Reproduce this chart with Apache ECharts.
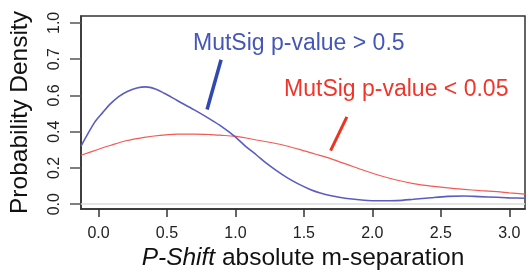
<!DOCTYPE html>
<html>
<head>
<meta charset="utf-8">
<script src="https://cdn.jsdelivr.net/npm/echarts@6/dist/echarts.min.js"></script>
<style>html,body{margin:0;padding:0;background:#fff}#c{width:530px;height:276px}</style>
</head>
<body>
<div id="c"></div>
<script>
// Data
const blueX = [-0.128,-0.03,0.03,0.09,0.15,0.21,0.28,0.345,0.42,0.48,0.575,0.70,0.817,0.90,0.99,1.07,1.156,1.216,1.30,1.38,1.459,1.55,1.62,1.70,1.80,1.94,2.05,2.18,2.30,2.43,2.55,2.67,2.78,2.91,3.0,3.115];
const blueY = [0.32,0.45,0.505,0.556,0.595,0.622,0.641,0.647,0.634,0.612,0.572,0.52,0.468,0.428,0.377,0.322,0.27,0.232,0.185,0.145,0.112,0.08,0.062,0.047,0.033,0.022,0.019,0.02,0.027,0.036,0.043,0.045,0.042,0.038,0.035,0.033];
const redX = [-0.128,0.0,0.09,0.2,0.334,0.45,0.575,0.70,0.817,0.90,0.99,1.08,1.156,1.216,1.34,1.459,1.58,1.70,1.82,1.94,2.06,2.184,2.30,2.43,2.55,2.67,2.79,2.91,3.0,3.115];
const redY = [0.27,0.303,0.325,0.35,0.369,0.38,0.386,0.387,0.384,0.38,0.375,0.365,0.354,0.346,0.328,0.304,0.277,0.25,0.218,0.186,0.157,0.132,0.114,0.1,0.09,0.082,0.075,0.069,0.063,0.056];
const xTickValues = [0,0.5,1,1.5,2,2.5,3];
const xTickLabels = ['0.0','0.5','1.0','1.5','2.0','2.5','3.0'];
const yTickValues = [0,0.2,0.4,0.6,0.8,1.0];
const yTickLabels = ['0.0','0.2','0.4','0.6','0.7','1.0'];
const blueName = 'MutSig p-value > 0.5';
const redName = 'MutSig p-value < 0.05';
const blueLabelAt = [0.69, 0.886];
const redLabelAt = [1.355, 0.63];
const bluePointer = [[0.895, 0.797],[0.793, 0.522]];
const redPointer = [[1.814, 0.482],[1.695, 0.295]];

const zip = (a,b) => a.map((v,i)=>[v,b[i]]);
const FONT = '"Liberation Sans", Arial, sans-serif';
const chart = echarts.init(document.getElementById('c'), null, {renderer:'canvas'});
chart.setOption({
  animation:false,
  grid:{left:78, top:16, right:5, bottom:64, show:true, borderColor:'#333', borderWidth:1.5, backgroundColor:'transparent'},
  xAxis:{
    type:'value', min:-0.128, max:3.115,
    splitLine:{show:false},
    axisLine:{show:true, onZero:false, lineStyle:{color:'#333', width:1.5}},
    axisTick:{show:true, customValues:xTickValues, length:8, lineStyle:{color:'#333', width:1.5}},
    axisLabel:{customValues:xTickValues, formatter:(v)=>xTickLabels[xTickValues.indexOf(v)] ?? '', fontFamily:FONT, fontSize:16, color:'#222', margin:16},
    name:'{i|P-Shift} absolute m-separation', nameLocation:'middle', nameGap:36,
    nameTextStyle:{fontFamily:FONT, fontSize:24.5, color:'#111', rich:{i:{fontStyle:'italic', fontFamily:FONT, fontSize:24.5, color:'#111'}}}
  },
  yAxis:{
    type:'value', min:-0.027, max:1.038,
    splitLine:{show:false},
    axisLine:{show:true, onZero:false, lineStyle:{color:'#333', width:1.5}},
    axisTick:{show:true, customValues:yTickValues, length:11, lineStyle:{color:'#555', width:1.5}},
    axisLabel:{customValues:yTickValues, rotate:90, formatter:(v)=>{const i=yTickValues.findIndex(t=>Math.abs(t-v)<1e-9);return i>=0?yTickLabels[i]:'';}, fontFamily:FONT, fontSize:16, color:'#222', margin:18},
    name:'Probability Density', nameLocation:'middle', nameGap:48, nameRotate:90,
    nameTextStyle:{fontFamily:FONT, fontSize:24.5, color:'#111'}
  },
  series:[
    {type:'line', name:redName, data:zip(redX,redY), smooth:0.3, showSymbol:false, lineStyle:{color:'#f25a55', width:1.2}, z:2,
     markPoint:{symbolSize:0, silent:true, data:[{coord:redLabelAt, value:redName}],
       label:{show:true, position:[0,0], align:'left', verticalAlign:'middle', formatter:redName, fontFamily:FONT, fontSize:23, color:'#f0352a'}},
     markLine:{silent:true, symbol:['none','none'], label:{show:false}, lineStyle:{color:'#ee3322', width:3, type:'solid'},
       data:[[{coord:redPointer[0]},{coord:redPointer[1]}]]}
    },
    {type:'line', name:blueName, data:zip(blueX,blueY), smooth:0.3, showSymbol:false, lineStyle:{color:'#5a5cc4', width:1.6}, z:3,
     markPoint:{symbolSize:0, silent:true, data:[{coord:blueLabelAt, value:blueName}],
       label:{show:true, position:[0,0], align:'left', verticalAlign:'middle', formatter:blueName, fontFamily:FONT, fontSize:23, color:'#4456b8'}},
     markLine:{silent:true, symbol:['none','none'], label:{show:false}, lineStyle:{color:'#3048b0', width:3.5, type:'solid'},
       data:[[{coord:bluePointer[0]},{coord:bluePointer[1]}]]}
    },
    {type:'line', data:[], markLine:{silent:true, symbol:['none','none'], label:{show:false}, lineStyle:{color:'#dddddd', width:1.5, type:'solid'}, data:[{yAxis:0}]}, z:1}
  ]
});
</script>
</body>
</html>
